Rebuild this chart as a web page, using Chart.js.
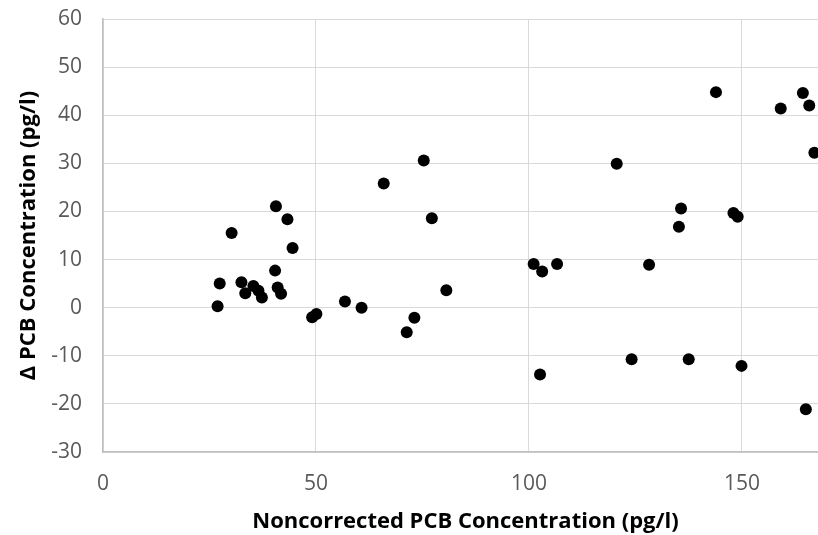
<!DOCTYPE html>
<html>
<head>
<meta charset="utf-8">
<script src="https://cdn.jsdelivr.net/npm/chart.js@4.4.1/dist/chart.umd.min.js"></script>
<style>
  html, body { margin: 0; padding: 0; background: #fff; overflow: hidden; }
  /* the original chart runs a little past the right edge of the picture */
  #wrap { width: 834px; height: 535px; }
</style>
</head>
<body>
<div id="wrap"><canvas id="chart"></canvas></div>
<script>
// Data
const noncorrected = [
  26.9, 27.4, 30.2, 32.5, 33.4, 35.3, 36.5, 37.3, 40.4, 40.6, 41.0, 41.8, 43.3, 44.5,
  49.1, 50.1, 56.8, 60.7, 65.9, 71.3, 73.1, 75.3, 77.2, 80.6,
  101.1, 102.6, 103.1, 106.6, 120.6, 124.1, 128.2, 135.2, 135.7, 137.5,
  143.9, 148.0, 149.0, 149.9, 159.1, 164.3, 165.0, 165.8, 167.0
];
const deltaPCB = [
  0.3, 5.0, 15.5, 5.3, 3.0, 4.5, 3.5, 2.1, 7.7, 21.1, 4.2, 2.9, 18.4, 12.4,
  -2.0, -1.3, 1.3, 0.0, 25.8, -5.1, -2.1, 30.6, 18.6, 3.6,
  9.1, -13.9, 7.5, 9.1, 29.9, -10.7, 8.9, 16.8, 20.6, -10.7,
  44.8, 19.7, 18.9, -12.1, 41.4, 44.6, -21.1, 42.0, 32.2
];
const xTicks = [0, 50, 100, 150];
const yTicks = [-30, -20, -10, 0, 10, 20, 30, 40, 50, 60];

const points = noncorrected.map((x, i) => ({ x: x, y: deltaPCB[i] }));

Chart.defaults.font.family = '"Open Sans", Lato, sans-serif';

const chartConfig = {
  type: 'scatter',
  data: {
    datasets: [
      {
        data: points,
        backgroundColor: '#000',
        borderWidth: 0,
        pointRadius: 6,
        pointHoverRadius: 6,
        clip: false
      }
    ]
  },
  options: {
    responsive: true,
    maintainAspectRatio: false,
    animation: false,
    layout: { padding: { top: 19, right: 0, left: 0, bottom: 0 } },
    plugins: {
      legend: { display: false },
      tooltip: { enabled: false }
    },
    scales: {
      x: {
        type: 'linear',
        min: 0,
        max: 170.2,
        afterBuildTicks: (scale) => { scale.ticks = xTicks.map(v => ({ value: v })); },
        afterFit: (scale) => {
          scale.height = 83;
          scale.paddingLeft = 0;
          scale.paddingRight = 0;
        },
        grid: { color: '#d9d9d9', lineWidth: 1, drawTicks: false },
        border: { color: '#bfbfbf', width: 1.5 },
        ticks: { color: '#595959', font: { size: 21 }, padding: 19, maxRotation: 0 },
        title: {
          display: true,
          text: 'Noncorrected PCB Concentration (pg/l)',
          color: '#000',
          font: { size: 22, weight: 'bold' },
          padding: { top: 0, bottom: 0 }
        }
      },
      y: {
        type: 'linear',
        min: -30,
        max: 60,
        afterBuildTicks: (scale) => { scale.ticks = yTicks.map(v => ({ value: v })); },
        afterFit: (scale) => {
          scale.width = 103;
          scale.paddingTop = 0;
          scale.paddingBottom = 0;
        },
        grid: { color: '#d9d9d9', lineWidth: 1, drawTicks: false },
        border: { color: '#bfbfbf', width: 1.5 },
        ticks: { color: '#595959', font: { size: 21 }, padding: 21 },
        title: {
          display: true,
          text: 'Δ PCB Concentration (pg/l)',
          color: '#000',
          font: { size: 22, weight: 'bold' },
          padding: { top: 16, bottom: 0 }
        }
      }
    }
  }
};

new Chart(document.getElementById('chart'), chartConfig);
</script>
</body>
</html>
